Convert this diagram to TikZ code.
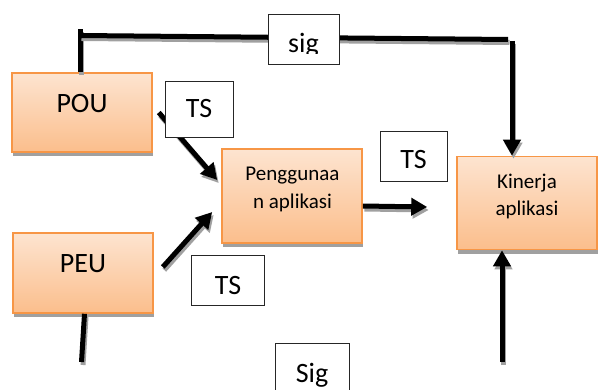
\documentclass[tikz,border=0pt]{standalone}
\usepackage{fontspec}
\setmainfont{Carlito}
\usetikzlibrary{arrows.meta,shadows,calc}
\definecolor{boxedge}{RGB}{247,150,70}
\definecolor{boxtop}{RGB}{253,228,208}
\definecolor{boxbot}{RGB}{251,190,140}
\definecolor{shadowgray}{RGB}{160,160,160}
\begin{document}
\begin{tikzpicture}[x=1pt,y=-1pt,
  box/.style={rectangle, draw=boxedge, line width=1.6pt, top color=boxtop, bottom color=boxbot,
    minimum width=140pt, inner sep=0pt,
    drop shadow={shadow xshift=0.8pt, shadow yshift=-4pt, fill=shadowgray, opacity=1}},
  tagbox/.style={rectangle, draw=black!85, line width=0.9pt, fill=white, inner sep=0pt},
  big/.style={font=\fontsize{28}{30}\selectfont, anchor=base, inner sep=0pt},
  small/.style={font=\fontsize{21}{24}\selectfont, anchor=base, inner sep=0pt},
  conn/.style={line width=5pt, black,
    preaction={draw=shadowgray, line width=5pt, transform canvas={shift={(1.5pt,-3pt)}}}},
  arr/.style={conn, -{Triangle[length=16pt,width=17pt]}}
]
\fill[white] (0,0) rectangle (604,390);
\useasboundingbox (0,0) rectangle (604,390);

% main boxes
\node[box, minimum height=79pt] (pou) at (82,112.5) {};
\node[box, minimum height=80pt] (peu) at (83,273) {};
\node[box, minimum height=94pt] (pgg) at (292,196) {};
\node[box, minimum height=93pt] (kin) at (527,203) {};

\node[big] (pout) at (82,112.7) {POU};
\node[big] (peut) at (83,272) {PEU};
\node[small] (pgg1) at (292.5,180) {Penggunaa};
\node[small] (pgg2) at (292.5,208) {n aplikasi};
\node[small] (kin1) at (527,188) {Kinerja};
\node[small] (kin2) at (527,215) {aplikasi};

% connectors
\coordinate (tl) at (80,29);
\coordinate (hl) at (80,35.5);
\coordinate (hr) at (508,39.5);
\coordinate (tr) at (512,41);
\coordinate (bl) at (81.5,362);
\coordinate (br) at (502,362);

\draw[conn] (pou.north -| tl) -- (tl);
\draw[conn] (hl) -- (hr);
\draw[arr] (tr) -- (kin.north -| tr);
\draw[arr] ([xshift=6pt]pou.east) -- ([shift={(-4,-16)}]pgg.west);
\draw[arr] ([shift={(9,-6)}]peu.east) -- ([shift={(-9,16)}]pgg.west);
\draw[arr] ([shift={(0,10)}]pgg.east) -- ([shift={(-29,4)}]kin.west);
\draw[conn] ([xshift=1.5pt]peu.south) -- (bl);
\draw[arr] (br) -- (kin.south -| br);

% tag boxes
\node[tagbox, minimum width=71pt, minimum height=50.5pt] (sigb) at (303.5,39.7) {};
\node[tagbox, minimum width=68pt, minimum height=56pt] (ts1) at (199,109) {};
\node[tagbox, minimum width=67pt, minimum height=50pt] (ts2) at (413.5,156) {};
\node[tagbox, minimum width=72.5pt, minimum height=50pt] (ts3) at (228,280) {};
\node[tagbox, minimum width=74pt, minimum height=60pt] (Sigb) at (312,373) {};

\begin{scope}
  \clip (262,10) rectangle (346,53.8);
  \node[big] (sigt) at (303.5,52.5) {sig};
\end{scope}
\node[big] (ts1t) at (199,118) {TS};
\node[big] (ts2t) at (413.5,168) {TS};
\node[big] (ts3t) at (228,294) {TS};
\node[big] (Sigt) at (312,382) {Sig};
\end{tikzpicture}
\end{document}
